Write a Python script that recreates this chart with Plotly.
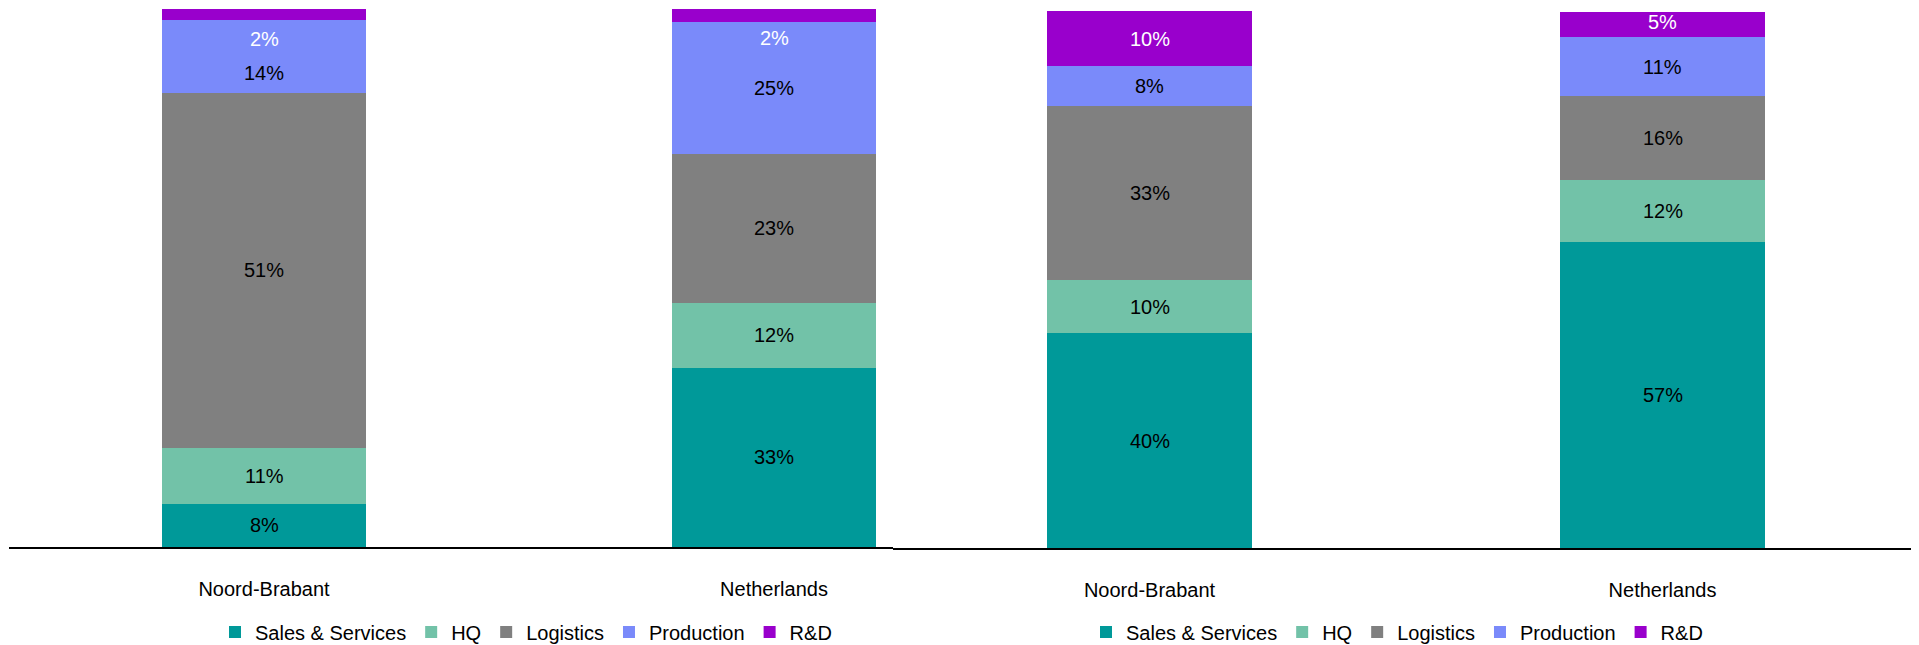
import plotly.graph_objects as go

# ---------------- data ----------------
categories = ["Noord-Brabant", "Netherlands"]
series = ["Sales & Services", "HQ", "Logistics", "Production", "R&D"]

# left chart: segment heights as drawn (share of bar, %)
left_sales = [8.0, 33.3]
left_hq = [10.4, 12.1]
left_logistics = [66.0, 27.6]
left_production = [13.6, 24.5]
left_rd = [2.0, 2.5]
# left chart: printed data labels
left_sales_lbl = ["8%", "33%"]
left_hq_lbl = ["11%", "12%"]
left_logistics_lbl = ["51%", "23%"]
left_production_lbl = ["14%", "25%"]
left_rd_lbl = ["2%", "2%"]

# right chart
right_sales = [40.0, 56.9]
right_hq = [9.9, 11.6]
right_logistics = [32.4, 15.6]
right_production = [7.4, 11.0]
right_rd = [10.3, 4.8]
right_sales_lbl = ["40%", "57%"]
right_hq_lbl = ["10%", "12%"]
right_logistics_lbl = ["33%", "16%"]
right_production_lbl = ["8%", "11%"]
right_rd_lbl = ["10%", "5%"]

# ---------------- style ----------------
colors = ["#009999", "#72C2A8", "#808080", "#7A8AFA", "#9900CC"]
label_colors = ["black", "black", "black", "black", "white"]
FONT = "Liberation Sans, Arial, sans-serif"
W, H = 1919, 645
OFF = 8  # page body margin

# pixel offsets of data labels (series index -> per category)
left_shift = {3: [-17, 0], 4: [-25, -22]}
right_shift = {4: [0, 2]}

left_vals = [left_sales, left_hq, left_logistics, left_production, left_rd]
left_lbls = [left_sales_lbl, left_hq_lbl, left_logistics_lbl, left_production_lbl, left_rd_lbl]
right_vals = [right_sales, right_hq, right_logistics, right_production, right_rd]
right_lbls = [right_sales_lbl, right_hq_lbl, right_logistics_lbl, right_production_lbl, right_rd_lbl]

fig = go.Figure()
annotations = []


def add_panel(vals, lbls, xa, ya, legend, shifts):
    base = [0.0] * len(categories)
    for i, name in enumerate(series):
        fig.add_trace(go.Bar(
            x=categories, y=vals[i], name=name,
            marker=dict(color=colors[i], line=dict(width=0)),
            width=0.4, xaxis=xa, yaxis=ya, legend=legend,
            hoverinfo="skip",
        ))
        for j, c in enumerate(categories):
            annotations.append(dict(
                x=c, y=base[j] + vals[i][j] / 2,
                xref=xa, yref=ya, text=lbls[i][j], showarrow=False,
                yshift=shifts.get(i, [0, 0])[j],
                font=dict(family=FONT, size=20, color=label_colors[i]),
            ))
            base[j] += vals[i][j]


add_panel(left_vals, left_lbls, "x", "y", "legend", left_shift)
add_panel(right_vals, right_lbls, "x2", "y2", "legend2", right_shift)

xcommon = dict(
    showline=True, linecolor="black", showgrid=False, zeroline=False,
    ticks="outside", ticklen=23, tickcolor="rgba(0,0,0,0)",
    tickfont=dict(family=FONT, size=20, color="black"),
    fixedrange=True,
)
ycommon = dict(
    range=[0, 100], showgrid=False, zeroline=False, showline=False,
    showticklabels=False, fixedrange=True,
)
legcommon = dict(
    orientation="h", xanchor="center", yanchor="middle",
    font=dict(family=FONT, size=20, color="black"),
    traceorder="normal", bgcolor="rgba(0,0,0,0)",
)


def px_x(p):
    return (p - OFF) / W


def px_y(p):
    return (H - (p - OFF)) / H


fig.update_layout(
    width=W, height=H,
    margin=dict(l=0, r=0, t=0, b=0),
    paper_bgcolor="white", plot_bgcolor="white",
    barmode="stack", bargap=0.6,
    font=dict(family=FONT, size=20, color="black"),
    xaxis=dict(domain=[px_x(9), px_x(1029)], anchor="y", linewidth=1.5, **xcommon),
    yaxis=dict(domain=[px_y(547), px_y(9)], anchor="x", **ycommon),
    xaxis2=dict(domain=[px_x(893), px_x(1919)], anchor="y2", linewidth=2, **xcommon),
    yaxis2=dict(domain=[px_y(548), px_y(11)], anchor="x2", **ycommon),
    legend=dict(x=px_x(526), y=px_y(632), **legcommon),
    legend2=dict(x=px_x(1397), y=px_y(632), **legcommon),
    annotations=annotations,
    showlegend=True,
)

fig.write_html("out.html")
